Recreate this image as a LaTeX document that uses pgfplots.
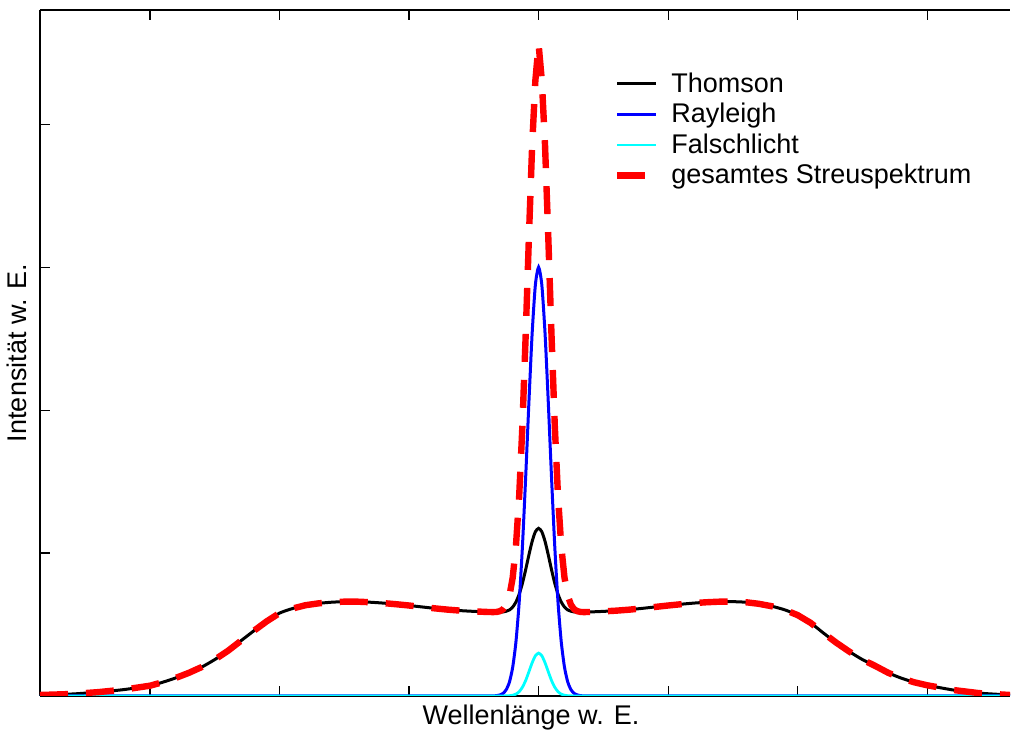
\documentclass[border=0pt]{standalone}
\usepackage{fontspec}
\setmainfont{Liberation Sans}
\usepackage{pgfplots}
\usepackage{pgfplotstable}
\pgfplotsset{compat=1.18}
\definecolor{mycyan}{RGB}{0,255,255}
\definecolor{myblue}{RGB}{0,0,255}
\definecolor{myred}{RGB}{255,0,0}
\pgfplotstableread{
x T R F S
-3.85 0.007 0 0 0.007
-3.6 0.014 0 0 0.014
-3.4 0.027 0 0 0.027
-3.2 0.045 0 0 0.045
-3.0 0.072 0 0 0.072
-2.9 0.097 0 0 0.097
-2.8 0.127 0 0 0.127
-2.7 0.162 0 0 0.162
-2.6 0.203 0 0 0.203
-2.5 0.255 0 0 0.255
-2.4 0.315 0 0 0.315
-2.3 0.385 0 0 0.385
-2.2 0.455 0 0 0.455
-2.1 0.522 0 0 0.522
-2.0 0.580 0 0 0.580
-1.9 0.612 0 0 0.612
-1.8 0.635 0 0 0.635
-1.7 0.648 0 0 0.648
-1.6 0.656 0 0 0.656
-1.5 0.660 0 0 0.660
-1.4 0.660 0 0 0.660
-1.3 0.656 0 0 0.656
-1.2 0.650 0 0 0.650
-1.1 0.642 0 0 0.642
-1.0 0.633 0 0 0.633
-0.9 0.623 0 0 0.623
-0.8 0.613 0 0 0.613
-0.7 0.604 0 0 0.604
-0.6 0.597 0 0 0.597
-0.5 0.592 0 0 0.592
-0.4 0.588 0 0 0.588
-0.35 0.586 0.001 0 0.587
-0.325 0.586 0.002 0 0.588
-0.3 0.586 0.007 0 0.593
-0.275 0.588 0.018 0 0.606
-0.25 0.593 0.044 0.001 0.638
-0.225 0.602 0.098 0.002 0.702
-0.2 0.622 0.201 0.005 0.828
-0.175 0.657 0.378 0.013 1.048
-0.15 0.712 0.655 0.030 1.397
-0.125 0.788 1.043 0.061 1.892
-0.1 0.883 1.526 0.108 2.517
-0.075 0.986 2.051 0.169 3.206
-0.05 1.081 2.534 0.232 3.847
-0.025 1.149 2.876 0.281 4.306
0 1.173 3.000 0.300 4.560
0.025 1.149 2.876 0.281 4.306
0.05 1.081 2.534 0.232 3.847
0.075 0.986 2.051 0.169 3.206
0.1 0.883 1.526 0.108 2.517
0.125 0.788 1.043 0.061 1.892
0.15 0.712 0.655 0.030 1.397
0.175 0.657 0.378 0.013 1.048
0.2 0.622 0.201 0.005 0.828
0.225 0.602 0.098 0.002 0.702
0.25 0.593 0.044 0.001 0.638
0.275 0.588 0.018 0 0.606
0.3 0.586 0.007 0 0.593
0.325 0.586 0.002 0 0.588
0.35 0.586 0.001 0 0.587
0.4 0.588 0 0 0.588
0.5 0.592 0 0 0.592
0.6 0.597 0 0 0.597
0.7 0.604 0 0 0.604
0.8 0.613 0 0 0.613
0.9 0.623 0 0 0.623
1.0 0.633 0 0 0.633
1.1 0.642 0 0 0.642
1.2 0.650 0 0 0.650
1.3 0.656 0 0 0.656
1.4 0.660 0 0 0.660
1.5 0.660 0 0 0.660
1.6 0.656 0 0 0.656
1.7 0.645 0 0 0.645
1.8 0.628 0 0 0.628
1.9 0.603 0 0 0.603
2.0 0.566 0 0 0.566
2.1 0.512 0 0 0.512
2.2 0.440 0 0 0.440
2.3 0.372 0 0 0.372
2.4 0.310 0 0 0.310
2.5 0.255 0 0 0.255
2.6 0.210 0 0 0.210
2.7 0.162 0 0 0.162
2.8 0.125 0 0 0.125
2.9 0.096 0 0 0.096
3.0 0.075 0 0 0.075
3.2 0.042 0 0 0.042
3.4 0.020 0 0 0.020
3.64 0.007 0 0 0.007
}\spec
\begin{document}
\begin{tikzpicture}
\begin{axis}[
  scale only axis, width=485pt, height=343pt,
  xmin=-3.85, xmax=3.64, ymin=0, ymax=4.8,
  axis x line*=box, axis y line*=left,
  axis line style={line width=0.8pt, black},
  xtick={-3,-2,-1,0,1,2,3}, ytick={1,2,3,4},
  xticklabels={}, yticklabels={},
  tick align=inside, major tick length=5pt,
  tick style={line width=0.6pt, black},
  xlabel={Wellenlänge w. E.}, ylabel={Intensität w. E.},
  label style={font=\fontsize{13.5}{16}\selectfont},
  xlabel style={at={(axis description cs:0.5,0)}, anchor=north, inner sep=0pt, yshift=-4.5pt, xshift=3pt},
  ylabel style={at={(axis description cs:0,0.5)}, anchor=south, inner sep=0pt, rotate=0, yshift=6.5pt},
  legend style={draw=none, fill=none, font=\fontsize{13.5}{16}\selectfont,
    at={(rel axis cs:0.585,0.921)}, anchor=north west, row sep=0pt},
  legend cell align=left,
  legend image code/.code={\draw[#1] (0pt,0pt) -- (19.5pt,0pt); \path (23.5pt,0pt);},
]
\addplot[black, line width=1.5pt, smooth, tension=0.4] table[x=x,y=T]{\spec};
\addlegendentry{Thomson}
\addplot[myblue, line width=1.5pt, smooth, tension=0.4] table[x=x,y=R]{\spec};
\addlegendentry{Rayleigh}
\addplot[mycyan, line width=1.4pt, smooth, tension=0.4] table[x=x,y=F]{\spec};
\addlegendentry{Falschlicht}
\addplot[myred, line width=3.2pt, dash pattern=on 14pt off 9pt] table[x=x,y=S]{\spec};
\addlegendentry{gesamtes Streuspektrum}
\coordinate (bl) at (rel axis cs:0,0);
\coordinate (tr) at (rel axis cs:1,1);
\end{axis}
\path ([xshift=-20pt,yshift=-18.5pt]bl) rectangle ([xshift=0.5pt,yshift=5pt]tr);
\end{tikzpicture}
\end{document}
